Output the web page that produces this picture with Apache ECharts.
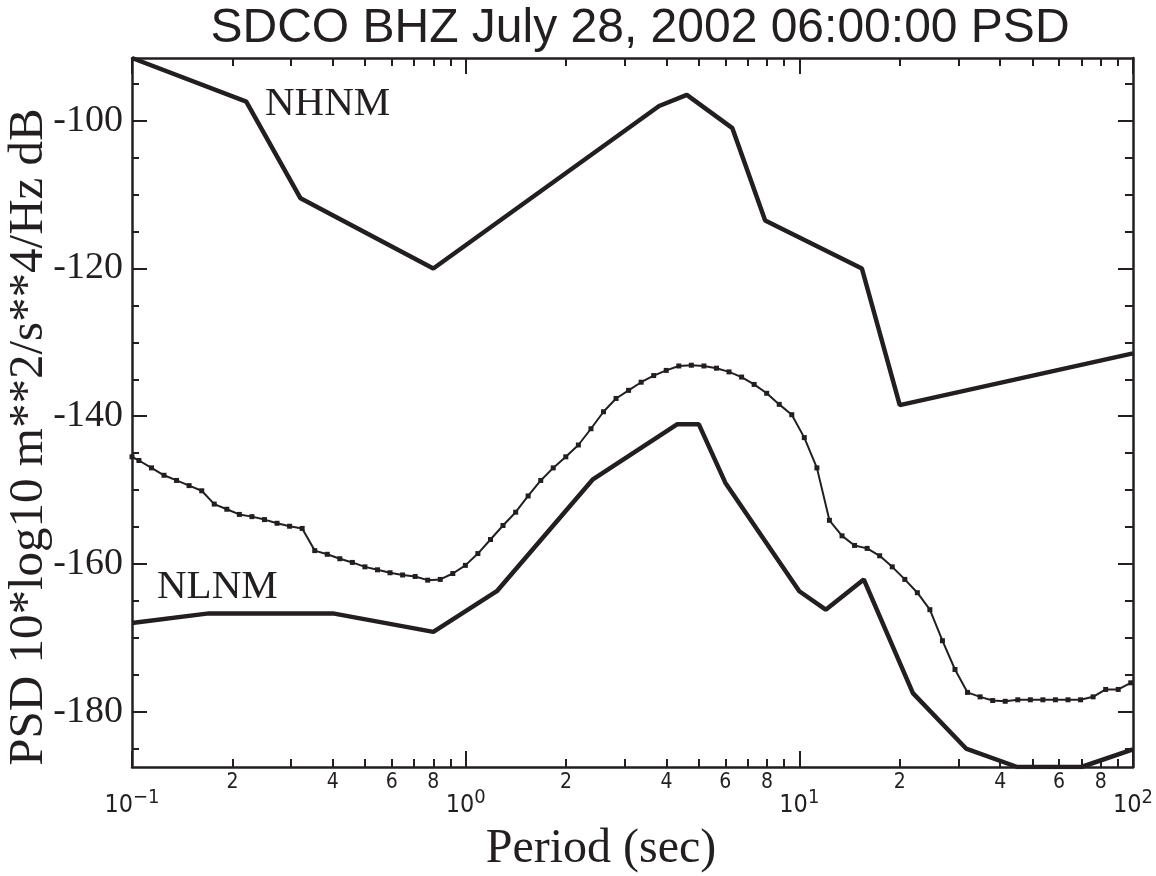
<!DOCTYPE html>
<html>
<head>
<meta charset="utf-8">
<title>SDCO BHZ PSD</title>
<script src="https://cdn.jsdelivr.net/npm/echarts@6/dist/echarts.min.js"></script>
<style>
  html, body { margin: 0; padding: 0; background: #fff; }
  #chart { width: 1156px; height: 876px; }
</style>
</head>
<body>
<div id="chart"></div>
<script>
const ink = '#231f20'
const serif = "'Liberation Serif', 'DejaVu Serif', serif"
const narrow = "'Liberation Sans Narrow', 'DejaVu Sans Condensed', sans-serif"

// Peterson high / low noise models
const nhnmPeriod = [0.1, 0.22, 0.32, 0.8, 3.8, 4.6, 6.3, 7.9, 15.4, 20, 100]
const nhnmPsd = [-91.5, -97.4, -110.5, -120.0, -98.0, -96.5, -101.0, -113.5, -120.0, -138.5, -131.5]

const nlnmPeriod = [0.1, 0.17, 0.4, 0.8, 1.24, 2.4, 4.3, 5.0, 6.0, 10.0, 12.0, 15.6, 21.9, 31.6, 45, 70, 100]
const nlnmPsd = [-168.0, -166.7, -166.7, -169.2, -163.7, -148.6, -141.1, -141.1, -149.0, -163.7, -166.2, -162.1, -177.5, -185.0, -187.5, -187.5, -185.1]

// station PSD, 1/8 octave samples
const psdPeriod = [0.1, 0.1049, 0.1144, 0.1247, 0.136, 0.1483, 0.1618, 0.1764, 0.1924, 0.2098,
  0.2288, 0.2495, 0.2721, 0.2967, 0.3236, 0.3529, 0.3848, 0.4196, 0.4576, 0.499,
  0.5442, 0.5934, 0.6471, 0.7057, 0.7696, 0.8392, 0.9152, 0.998, 1.088, 1.187,
  1.294, 1.412, 1.539, 1.679, 1.83, 1.996, 2.177, 2.374, 2.589, 2.823,
  3.078, 3.357, 3.661, 3.992, 4.353, 4.747, 5.177, 5.646, 6.156, 6.714,
  7.321, 7.984, 8.706, 9.494, 10.35, 11.29, 12.31, 13.43, 14.64, 15.97,
  17.41, 18.99, 20.71, 22.58, 24.62, 26.85, 29.28, 31.93, 34.82, 37.98,
  41.41, 45.16, 49.25, 53.7, 58.56, 63.87, 69.65, 75.95, 82.82, 90.32, 98.49]
const psdValue = [-145.5, -146.0, -147.0, -148.0, -148.7, -149.4, -150.1, -151.9, -152.6, -153.3,
  -153.6, -154.0, -154.5, -154.9, -155.2, -158.2, -158.7, -159.3, -159.8, -160.4,
  -160.8, -161.2, -161.5, -161.7, -162.2, -162.1, -161.3, -160.2, -158.6, -156.7,
  -154.8, -153.0, -150.8, -148.7, -147.0, -145.5, -143.9, -141.7, -139.4, -137.6,
  -136.5, -135.4, -134.5, -133.8, -133.2, -133.1, -133.2, -133.5, -134.0, -134.7,
  -135.7, -136.9, -138.4, -139.8, -142.9, -147.0, -154.1, -156.2, -157.5, -157.9,
  -158.9, -160.4, -162.1, -163.9, -166.2, -170.4, -174.3, -177.4, -178.0, -178.5,
  -178.6, -178.4, -178.4, -178.4, -178.4, -178.4, -178.4, -178.0, -177.0, -177.0, -176.1]

// axis ticks
const decadeTicks = [0.1, 1, 10, 100]
const minorTicks = [0.2, 0.3, 0.4, 0.5, 0.6, 0.7, 0.8, 0.9, 2, 3, 4, 5, 6, 7, 8, 9, 20, 30, 40, 50, 60, 70, 80, 90]
const minorLabels = [0.2, 0.4, 0.6, 0.8, 2, 4, 6, 8, 20, 40, 60, 80]
const yMajorTicks = [-180, -160, -140, -120, -100]
const yMinorTicks = [-185, -175, -170, -165, -155, -150, -145, -135, -130, -125, -115, -110, -105, -95]
const yMin = -187.5
const yMax = -91.5

const pairs = (xs, ys) => xs.map((x, i) => [x, ys[i]])
const lg = arr => arr.map(v => Math.log10(v))

const tickAxis = (position, ticks, len, extra) => Object.assign({
  type: 'value',
  min: -1,
  max: 2,
  position: position,
  axisLine: { show: false, onZero: false },
  axisTick: { show: true, inside: true, length: len, customValues: lg(ticks), lineStyle: { color: ink, width: 2 } },
  axisLabel: { show: false },
  splitLine: { show: false }
}, extra || {})

const yTickAxis = (position, ticks, len, extra) => Object.assign({
  type: 'value',
  min: yMin,
  max: yMax,
  position: position,
  axisLine: { show: false, onZero: false },
  axisTick: { show: true, inside: true, length: len, customValues: ticks, lineStyle: { color: ink, width: 2 } },
  axisLabel: { show: false },
  splitLine: { show: false }
}, extra || {})

const chart = echarts.init(document.getElementById('chart'))

chart.setOption({
  animation: false,
  backgroundColor: '#fff',
  grid: { left: 132, right: 18, top: 58, bottom: 109, containLabel: false },
  xAxis: [
    {
      type: 'log',
      logBase: 10,
      min: 0.1,
      max: 100,
      position: 'bottom',
      axisLine: { onZero: false, lineStyle: { color: ink, width: 2.5 } },
      axisTick: { show: false },
      axisLabel: { show: false },
      splitLine: { show: false }
    },
    tickAxis('bottom', minorTicks, 8, {
      axisLabel: {
        show: true,
        customValues: lg(minorLabels),
        margin: 5,
        color: ink,
        fontFamily: narrow,
        fontSize: 21,
        formatter: v => String(Math.round(Math.pow(10, v - Math.floor(v + 1e-6))))
      }
    }),
    tickAxis('bottom', decadeTicks, 16, {
      axisLabel: {
        show: true,
        customValues: lg(decadeTicks),
        margin: 26,
        color: ink,
        formatter: v => '{b|10}{s|' + String(Math.round(v)).replace('-', '\u2212') + '}',
        rich: {
          b: { fontFamily: narrow, fontSize: 25, lineHeight: 25, verticalAlign: 'bottom', color: ink },
          s: { fontFamily: narrow, fontSize: 20, lineHeight: 20, padding: [0, 0, 16, 0], color: ink }
        }
      }
    }),
    tickAxis('top', minorTicks, 8, { axisLine: { show: true, onZero: false, lineStyle: { color: ink, width: 2.5 } } }),
    tickAxis('top', decadeTicks, 16)
  ],
  yAxis: [
    yTickAxis('left', yMajorTicks, 15, {
      axisLine: { show: true, onZero: false, lineStyle: { color: ink, width: 2.5 } },
      axisLabel: {
        show: true,
        customValues: yMajorTicks,
        margin: 9,
        color: ink,
        fontFamily: serif,
        fontSize: 38
      }
    }),
    yTickAxis('left', yMinorTicks, 7),
    yTickAxis('right', yMajorTicks, 15, {
      axisLine: { show: true, onZero: false, lineStyle: { color: ink, width: 2.5 } }
    }),
    yTickAxis('right', yMinorTicks, 8)
  ],
  graphic: [
    {
      type: 'text', x: 640, y: 29,
      style: { text: 'SDCO BHZ July 28, 2002 06:00:00 PSD', fill: ink, font: "48px 'Liberation Sans', Arial, sans-serif", textAlign: 'center', textVerticalAlign: 'middle' }
    },
    {
      type: 'text', x: 601, y: 849,
      style: { text: 'Period (sec)', fill: ink, font: '48px ' + serif, textAlign: 'center', textVerticalAlign: 'middle' }
    },
    {
      type: 'text', x: 29, y: 437, rotation: Math.PI / 2,
      style: { text: 'PSD 10*log10 m**2/s**4/Hz dB', fill: ink, font: '49px ' + serif, textAlign: 'center', textVerticalAlign: 'middle' }
    },
    {
      type: 'text', x: 265, y: 104,
      style: { text: 'NHNM', fill: ink, font: '41px ' + serif, textAlign: 'left', textVerticalAlign: 'middle' }
    },
    {
      type: 'text', x: 157, y: 587,
      style: { text: 'NLNM', fill: ink, font: '41px ' + serif, textAlign: 'left', textVerticalAlign: 'middle' }
    }
  ],
  series: [
    {
      name: 'NHNM',
      type: 'line',
      xAxisIndex: 0,
      yAxisIndex: 0,
      data: pairs(nhnmPeriod, nhnmPsd),
      symbol: 'none',
      lineStyle: { color: ink, width: 4.5 }
    },
    {
      name: 'NLNM',
      type: 'line',
      xAxisIndex: 0,
      yAxisIndex: 0,
      data: pairs(nlnmPeriod, nlnmPsd),
      symbol: 'none',
      lineStyle: { color: ink, width: 4.5 }
    },
    {
      name: 'SDCO BHZ',
      type: 'line',
      xAxisIndex: 0,
      yAxisIndex: 0,
      data: pairs(psdPeriod, psdValue),
      symbol: 'rect',
      symbolSize: 5,
      showAllSymbol: true,
      itemStyle: { color: ink },
      lineStyle: { color: ink, width: 2 },
      z: 3
    }
  ]
})
</script>
</body>
</html>
